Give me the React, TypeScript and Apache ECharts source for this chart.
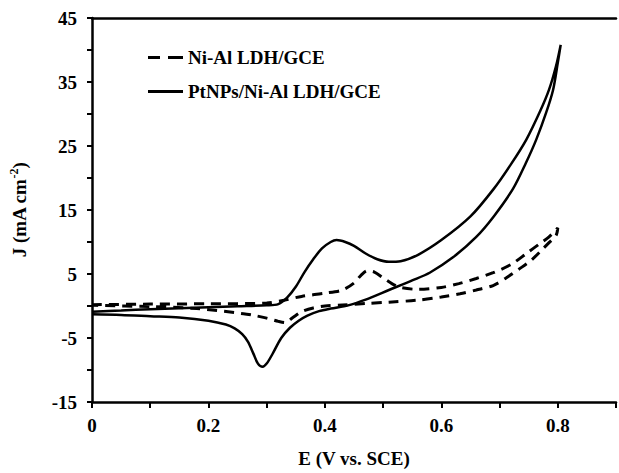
import React, { useEffect, useRef } from "react";
import * as echarts from "echarts";

const FONT = "'Liberation Serif', 'Times New Roman', serif";

const seriesNames = ["Ni-Al LDH/GCE", "PtNPs/Ni-Al LDH/GCE"];

const xTickLabels = ["0", "0.2", "0.4", "0.6", "0.8"];
const yTickLabels = ["-15", "-5", "5", "15", "25", "35", "45"];

// Ni-Al LDH/GCE (dashed) – forward scan
const ldhForward: [number, number][] = [
  [0, 0.2], [0.1, 0.3], [0.2, 0.35], [0.3, 0.45], [0.33, 0.9], [0.36, 1.5],
  [0.4, 2.0], [0.43, 2.5], [0.45, 3.6], [0.462, 4.8], [0.473, 5.5], [0.485, 5.3],
  [0.5, 4.4], [0.515, 3.5], [0.53, 2.9], [0.56, 2.6], [0.6, 2.9], [0.63, 3.5],
  [0.66, 4.3], [0.689, 5.2], [0.72, 6.5], [0.746, 8.2], [0.77, 9.8], [0.785, 10.8],
  [0.8, 12.2],
];
// Ni-Al LDH/GCE (dashed) – reverse scan
const ldhReverse: [number, number][] = [
  [0.8, 12.2], [0.797, 11.0], [0.785, 9.9], [0.774, 8.9], [0.755, 7.2], [0.734, 5.8],
  [0.71, 4.3], [0.689, 3.2], [0.66, 2.5], [0.632, 1.9], [0.6, 1.4], [0.558, 0.9],
  [0.51, 0.6], [0.473, 0.4], [0.43, 0.15], [0.4, 0.0], [0.38, -0.3], [0.36, -0.9],
  [0.345, -1.8], [0.332, -2.6], [0.32, -2.4], [0.3, -1.9], [0.28, -1.5], [0.26, -1.2],
  [0.18, -0.4], [0.1, -0.1], [0, 0.1],
];

// PtNPs/Ni-Al LDH/GCE (solid) – forward scan
const ptForward: [number, number][] = [
  [0, -0.9], [0.05, -0.7], [0.1, -0.5], [0.15, -0.35], [0.2, -0.2], [0.25, -0.05],
  [0.3, 0.1], [0.32, 0.3], [0.335, 1.3], [0.35, 3.0], [0.365, 5.3], [0.38, 7.3],
  [0.395, 9.0], [0.41, 10.0], [0.42, 10.3], [0.435, 10.0], [0.45, 9.4], [0.47, 8.2],
  [0.49, 7.3], [0.51, 6.9], [0.53, 7.0], [0.56, 8.0], [0.6, 10.3], [0.65, 14.0],
  [0.69, 18.3], [0.72, 22.2], [0.746, 26.0], [0.77, 30.5], [0.785, 33.8], [0.797, 37.5],
  [0.805, 40.8],
];
// PtNPs/Ni-Al LDH/GCE (solid) – reverse scan
const ptReverse: [number, number][] = [
  [0.805, 40.8], [0.8, 38.0], [0.792, 33.8], [0.78, 30.2], [0.763, 26.0], [0.745, 22.3],
  [0.723, 18.3], [0.69, 14.0], [0.66, 10.8], [0.62, 7.6], [0.58, 5.2], [0.55, 4.0],
  [0.51, 2.5], [0.47, 1.0], [0.44, 0.1], [0.41, -0.4], [0.39, -0.8], [0.37, -1.5],
  [0.355, -2.3], [0.34, -3.4], [0.325, -5.0], [0.31, -7.5], [0.3, -9.0], [0.293, -9.5],
  [0.285, -9.0], [0.277, -7.4], [0.268, -5.6], [0.258, -4.4], [0.245, -3.5], [0.23, -2.9],
  [0.2, -2.3], [0.15, -1.8], [0.1, -1.6], [0.05, -1.4], [0, -1.3],
];

export default function App() {
  const ref = useRef<HTMLDivElement>(null);
  useEffect(() => {
    document.body.style.margin = "0";
    if (!ref.current) return;
    const chart = echarts.init(ref.current, undefined, { renderer: "svg" });
    const axisText = { fontFamily: FONT, fontWeight: "bold" as const, fontSize: 19, color: "#000" };
    chart.setOption({
      animation: false,
      backgroundColor: "#fff",
      grid: { left: 92, top: 18, width: 529, height: 386, show: false },
      legend: {
        left: 143,
        top: 43,
        orient: "vertical",
        itemWidth: 35,
        itemHeight: 3,
        itemGap: 15,
        data: [
          { name: seriesNames[0], icon: "path://M0,0H12V3H0Z M20,0H35V3H20Z" },
          { name: seriesNames[1], icon: "path://M0,0H35V3H0Z" },
        ],
        textStyle: { ...axisText, fontSize: 19 },
      },
      xAxis: [
        {
          type: "value",
          min: 0,
          max: 0.9,
          interval: 0.1,
          name: "E (V vs. SCE)",
          nameLocation: "middle",
          nameGap: 47,
          nameTextStyle: { ...axisText },
          axisLine: { show: true, onZero: false, lineStyle: { color: "#000", width: 2.5 } },
          axisTick: { show: true, length: 6, lineStyle: { color: "#000", width: 2 } },
          splitLine: { show: false },
          axisLabel: {
            ...axisText,
            margin: 14,
            formatter: (v: number) => {
              const k = Math.round(v * 10);
              return k % 2 === 0 && k / 2 < xTickLabels.length ? xTickLabels[k / 2] : "";
            },
          },
        },
        {
          type: "value",
          position: "top",
          min: 0,
          max: 0.9,
          axisLine: { show: true, onZero: false, lineStyle: { color: "#000", width: 2.5 } },
          axisTick: { show: false },
          axisLabel: { show: false },
          splitLine: { show: false },
        },
      ],
      yAxis: {
        type: "value",
        min: -15,
        max: 45,
        interval: 5,
        name: "J (mA cm{sup|-2})",
        nameLocation: "middle",
        nameRotate: 90,
        nameGap: 62,
        nameTextStyle: {
          ...axisText,
          rich: {
            sup: { fontFamily: FONT, fontWeight: "bold", fontSize: 12, color: "#000", verticalAlign: "top", lineHeight: 22 },
          },
        },
        axisLine: { show: true, onZero: false, lineStyle: { color: "#000", width: 2.5 } },
        axisTick: { show: true, length: 5, lineStyle: { color: "#000", width: 2 } },
        splitLine: { show: false },
        axisLabel: {
          ...axisText,
          margin: 15,
          formatter: (v: number) => {
            const k = Math.round((v + 15) / 5);
            return k % 2 === 0 ? yTickLabels[k / 2] ?? "" : "";
          },
        },
      },
      series: [
        {
          name: seriesNames[0],
          type: "line",
          symbol: "none",
          smooth: 0.3,
          data: [...ldhForward, ...ldhReverse.slice(1)],
          lineStyle: { color: "#000", width: 3, type: [10, 7] },
          itemStyle: { color: "#000" },
        },
        {
          name: seriesNames[1],
          type: "line",
          symbol: "none",
          smooth: 0.3,
          data: [...ptForward, ...ptReverse.slice(1)],
          lineStyle: { color: "#000", width: 2.5, type: "solid" },
          itemStyle: { color: "#000" },
        },
      ],
    });
    return () => chart.dispose();
  }, []);
  return <div ref={ref} style={{ width: 619, height: 473 }} />;
}
